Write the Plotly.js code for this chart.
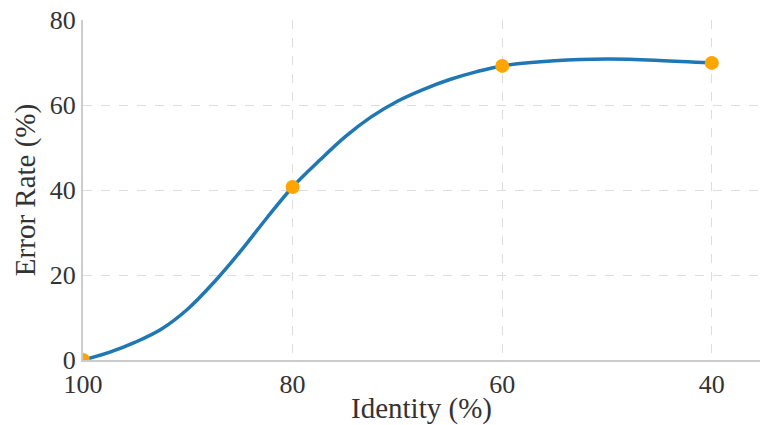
<!DOCTYPE html>
<html><head><meta charset="utf-8">
<script src="https://cdn.plot.ly/plotly-3.0.1.min.js"></script>
<style>html,body{margin:0;padding:0;background:#fff}#c{width:760px;height:425px}</style>
</head><body><div id="c"></div>
<script>
// measured points (markers)
const identity = [100, 80, 60, 40];
const errorRate = [0, 40.7, 69.2, 69.9];
// smooth curve
const curveIdentity = [100, 97.5, 95, 92.5, 90, 87.5, 85, 82.5, 80, 77.5, 75, 72.5, 70, 67.5, 65, 62.5, 60, 55, 50, 45, 40];
const curveError = [0, 1.8, 4.2, 7.3, 12.0, 18.3, 25.5, 33.3, 40.7, 46.8, 52.5, 57.2, 60.9, 63.7, 66.0, 67.8, 69.2, 70.4, 70.8, 70.5, 69.9];
const xTicks = [100, 80, 60, 40];
const yTicks = [0, 20, 40, 60, 80];

const font = {family: 'Liberation Serif', size: 26, color: '#333333'};
const titleFont = {family: 'Liberation Serif', size: 29, color: '#333333'};
Plotly.newPlot('c', [{
  x: curveIdentity, y: curveError, type: 'scatter', mode: 'lines',
  line: {shape: 'spline', smoothing: 1, color: '#1f77b4', width: 3.5},
  hoverinfo: 'skip', showlegend: false
}, {
  x: identity, y: errorRate, type: 'scatter', mode: 'markers',
  marker: {color: '#FFA500', size: 14},
  showlegend: false
}], {
  width: 760, height: 425,
  margin: {l: 83, r: 0, t: 20, b: 65},
  paper_bgcolor: '#fff', plot_bgcolor: '#fff',
  font: font,
  xaxis: {range: [100, 35.4], tickvals: xTicks, ticktext: xTicks.map(String),
    showgrid: true, gridcolor: '#dddddd', griddash: 'dash', gridwidth: 1,
    showline: true, linecolor: '#cccccc', linewidth: 2, zeroline: false, ticks: '',
    title: {text: 'Identity (%)', font: titleFont, standoff: 4}},
  yaxis: {range: [0, 80], tickvals: yTicks, ticktext: yTicks.map(String),
    showgrid: true, gridcolor: '#dddddd', griddash: 'dash', gridwidth: 1,
    showline: true, linecolor: '#cccccc', linewidth: 2, zeroline: false, ticks: '',
    title: {text: 'Error Rate (%)', font: titleFont, standoff: 6}}
}, {displayModeBar: false});
</script></body></html>
